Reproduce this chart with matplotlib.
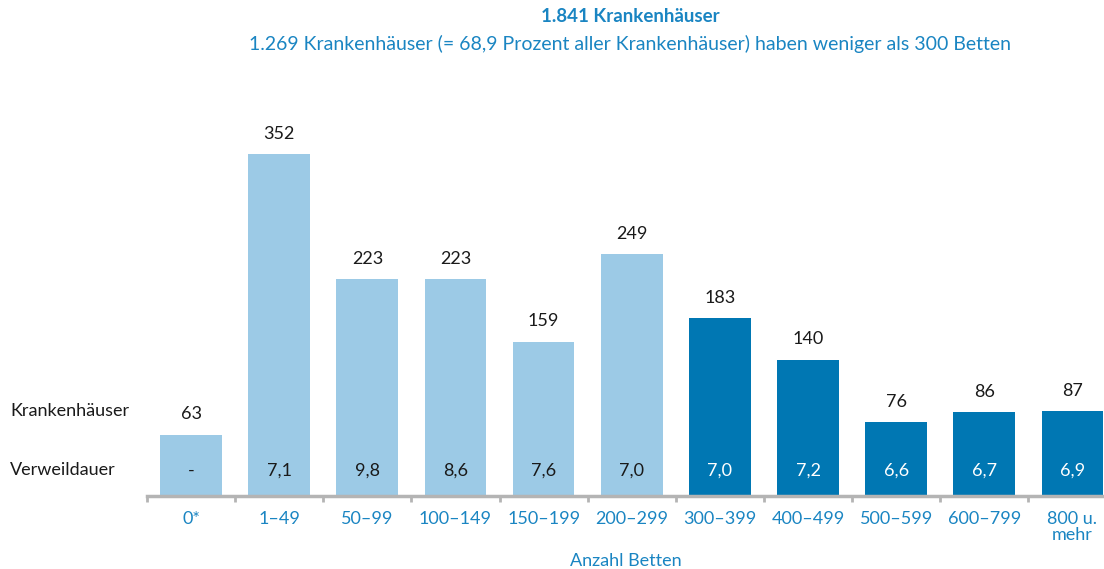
import matplotlib
matplotlib.use("Agg")
import matplotlib.pyplot as plt
import numpy as np

plt.rcParams["font.family"] = ["Lato", "DejaVu Sans"]

categories = ["0*", "1–49", "50–99", "100–149", "150–199", "200–299",
              "300–399", "400–499", "500–599", "600–799", "800 u.\nmehr"]
krankenhaeuser = [63, 352, 223, 223, 159, 249, 183, 140, 76, 86, 87]
verweildauer = ["-", "7,1", "9,8", "8,6", "7,6", "7,0",
                "7,0", "7,2", "6,6", "6,7", "6,9"]
unter_300 = [True, True, True, True, True, True,
             False, False, False, False, False]

LIGHT = "#9ccae6"
DARK = "#0077b3"
TEXT_BLUE = "#1a85c2"
GREY = "#b4b4b4"

W, H = 1104, 569
fig = plt.figure(figsize=(W / 100, H / 100), dpi=100)
base_y = 496
top_y = 100
ax = fig.add_axes([147 / W, (H - base_y) / H, 1 - 147 / W, (base_y - top_y) / H])

x = np.arange(len(categories))
colors = [LIGHT if u else DARK for u in unter_300]
ax.bar(x, krankenhaeuser, width=0.7, color=colors, zorder=2)

for xi, v in zip(x, krankenhaeuser):
    ax.annotate(str(v), xy=(xi, v), xytext=(0, 9), textcoords="offset points",
                ha="center", va="bottom", fontsize=13, color="#1a1a1a")

for xi, d, u in zip(x, verweildauer, unter_300):
    ax.text(xi, 26, d, ha="center", va="center", fontsize=13,
            color="#1a1a1a" if u else "white", zorder=3)

for s in ["top", "right", "left"]:
    ax.spines[s].set_visible(False)
ax.spines["bottom"].set_color(GREY)
ax.spines["bottom"].set_linewidth(2.5)
ax.set_yticks([])
ax.set_xticks(x)
ax.set_xticklabels(categories, fontsize=13, color=TEXT_BLUE, linespacing=1.0)
ax.tick_params(axis="x", which="major", length=0, pad=11)
ax.set_xticks(np.arange(-0.5, 10.6, 1.0), minor=True)
ax.tick_params(axis="x", which="minor", length=4, width=2, color=GREY, direction="out")
ax.set_xlabel("Anzahl Betten", fontsize=13, color=TEXT_BLUE, labelpad=7)

px_per_unit = 342 / 352
ax.set_ylim(0, (base_y - top_y) / px_per_unit)
ax.set_xlim(-0.5, 10 + (W - 1072.5) / 88)

fig.text(10 / W, 1 - 411 / H, "Krankenhäuser", fontsize=13, color="#1a1a1a",
         va="center", ha="left")
fig.text(10 / W, 1 - 470 / H, "Verweildauer", fontsize=13, color="#1a1a1a",
         va="center", ha="left")

fig.text(630 / W, 1 - 17 / H, "1.841 Krankenhäuser", fontsize=13.5, weight="bold",
         color=TEXT_BLUE, ha="center", va="center")
fig.text(630 / W, 1 - 44 / H,
         "1.269 Krankenhäuser (= 68,9 Prozent aller Krankenhäuser) haben weniger als 300 Betten",
         fontsize=14, color=TEXT_BLUE, ha="center", va="center")

fig.savefig("out.png", dpi=100)
